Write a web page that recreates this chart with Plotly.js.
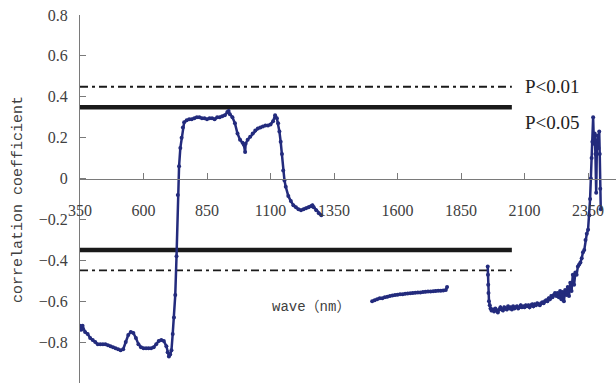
<!DOCTYPE html>
<html>
<head>
<meta charset="utf-8">
<script src="https://cdn.plot.ly/plotly-3.0.1.min.js"></script>
<style>html,body{margin:0;padding:0;background:#fff;}#chart{width:616px;height:389px;}</style>
</head>
<body>
<div id="chart"></div>
<script>
// Segment 1: 350–1300 nm
var wave1 = [350,355,360,370,380,390,400,410,420,430,440,450,460,470,480,490,500,510,520,530,540,550,560,570,580,590,600,610,620,630,640,650,660,670,680,690,695,700,705,710,715,720,725,730,735,740,745,750,755,760,770,780,790,800,810,820,830,840,850,860,870,880,890,900,910,920,930,935,940,950,960,970,980,990,995,1000,1002,1010,1020,1030,1040,1050,1060,1070,1080,1090,1100,1110,1118,1125,1130,1135,1140,1145,1150,1155,1160,1170,1180,1190,1200,1210,1220,1230,1240,1250,1260,1265,1270,1280,1290,1300];
var corr1 = [-0.72,-0.74,-0.72,-0.75,-0.76,-0.78,-0.79,-0.80,-0.81,-0.81,-0.81,-0.81,-0.815,-0.82,-0.825,-0.83,-0.835,-0.84,-0.835,-0.80,-0.765,-0.75,-0.755,-0.78,-0.81,-0.825,-0.83,-0.83,-0.83,-0.83,-0.825,-0.81,-0.795,-0.79,-0.795,-0.82,-0.85,-0.87,-0.86,-0.84,-0.76,-0.68,-0.57,-0.38,-0.08,0.06,0.15,0.20,0.25,0.275,0.285,0.29,0.29,0.295,0.30,0.30,0.295,0.295,0.29,0.295,0.295,0.29,0.30,0.30,0.305,0.31,0.325,0.33,0.315,0.30,0.27,0.22,0.19,0.175,0.165,0.13,0.17,0.19,0.205,0.22,0.235,0.245,0.25,0.255,0.26,0.26,0.265,0.28,0.31,0.295,0.27,0.23,0.18,0.12,0.04,-0.01,-0.04,-0.085,-0.11,-0.13,-0.14,-0.15,-0.155,-0.15,-0.145,-0.14,-0.135,-0.13,-0.14,-0.155,-0.17,-0.18];

// Segment 2: 1500–1795 nm
var wave2 = [1500,1510,1520,1530,1540,1550,1560,1570,1580,1590,1600,1610,1620,1630,1640,1650,1660,1670,1680,1690,1700,1710,1720,1730,1740,1750,1760,1770,1780,1790,1795];
var corr2 = [-0.60,-0.595,-0.59,-0.585,-0.585,-0.58,-0.578,-0.575,-0.572,-0.57,-0.568,-0.566,-0.566,-0.563,-0.562,-0.561,-0.56,-0.558,-0.557,-0.557,-0.555,-0.554,-0.553,-0.552,-0.551,-0.55,-0.549,-0.549,-0.548,-0.545,-0.53];

// Segment 3: 1955–2400 nm
var wave3 = [1955,1956,1957,1958,1960,1963,1966,1970,1975,1980,1985,1990,1995,2000,2005,2010,2015,2020,2025,2030,2035,2040,2045,2050,2055,2060,2065,2070,2075,2080,2085,2090,2095,2100,2105,2110,2115,2120,2125,2130,2135,2140,2145,2150,2155,2160,2165,2170,2175,2180,2185,2190,2195,2200,2205,2210,2215,2220,2225,2230,2235,2240,2245,2250,2255,2260,2265,2270,2275,2280,2285,2290,2295,2300,2305,2310,2315,2320,2325,2330,2335,2340,2345,2350,2355,2358,2361,2364,2367,2370,2373,2376,2379,2382,2385,2388,2391,2394,2396,2398,2400];
var corr3 = [-0.43,-0.47,-0.52,-0.56,-0.60,-0.62,-0.635,-0.645,-0.64,-0.65,-0.635,-0.645,-0.655,-0.64,-0.63,-0.64,-0.645,-0.63,-0.635,-0.64,-0.625,-0.635,-0.63,-0.64,-0.625,-0.635,-0.63,-0.625,-0.635,-0.63,-0.62,-0.63,-0.625,-0.63,-0.62,-0.625,-0.62,-0.63,-0.62,-0.615,-0.625,-0.615,-0.62,-0.61,-0.615,-0.62,-0.61,-0.605,-0.61,-0.60,-0.595,-0.60,-0.585,-0.59,-0.575,-0.58,-0.57,-0.56,-0.575,-0.56,-0.58,-0.55,-0.59,-0.555,-0.60,-0.545,-0.57,-0.53,-0.575,-0.51,-0.55,-0.47,-0.52,-0.46,-0.47,-0.43,-0.42,-0.41,-0.39,-0.36,-0.35,-0.30,-0.27,-0.25,-0.18,-0.10,0.00,0.10,0.18,0.30,0.17,0.22,0.12,-0.07,0.17,0.21,0.15,0.23,0.12,-0.05,-0.15];

// Significance thresholds
var thrWave = [350, 2050];
var thr01 = 0.449;
var thr05 = 0.349;

var xTicks = [350,600,850,1100,1350,1600,1850,2100,2350];
var yTicks = [-1,-0.8,-0.6,-0.4,-0.2,0,0.2,0.4,0.6,0.8];
var yTickText = ["\u22121","\u22120.8","\u22120.6","\u22120.4","\u22120.2","0","0.2","0.4","0.6","0.8"];

var curveColor = '#232b7d';
function seg(x, y) {
  return {x: x, y: y, type: 'scatter', mode: 'lines+markers',
    line: {color: curveColor, width: 2.5}, marker: {color: curveColor, size: 4},
    showlegend: false, hoverinfo: 'skip'};
}
function thr(v, dash, w) {
  return {x: thrWave, y: [v, v], type: 'scatter', mode: 'lines',
    line: {color: '#1a1a1a', width: w, dash: dash}, showlegend: false, hoverinfo: 'skip'};
}

var data = [
  thr(thr01, '8px,4px,3px,4px', 1.8), thr(-thr01, '8px,4px,3px,4px', 1.8),
  thr(thr05, 'solid', 4.5), thr(-thr05, 'solid', 4.5),
  seg(wave1, corr1), seg(wave2, corr2), seg(wave3, corr3)
];

var yMin = -1, yMax = 0.8;
var tickFont = {family: '"Liberation Serif", serif', size: 16, color: '#404040'};
var layout = {
  width: 616, height: 389,
  margin: {l: 80, r: 0, t: 15, b: 6, pad: 0},
  paper_bgcolor: '#fff', plot_bgcolor: '#fff',
  showlegend: false,
  xaxis: {
    range: [350, 2460], anchor: 'free', position: (0 - yMin) / (yMax - yMin),
    showgrid: false, zeroline: false, showline: true, linecolor: '#7a7a7a', linewidth: 1,
    ticks: 'inside', ticklen: 6, tickcolor: '#7a7a7a',
    tickvals: xTicks, ticktext: xTicks.map(String),
    tickfont: tickFont, ticklabelstandoff: 17
  },
  yaxis: {
    range: [yMin, yMax], domain: [0, 1],
    showgrid: false, zeroline: false, showline: true, linecolor: '#7a7a7a', linewidth: 1,
    ticks: 'inside', ticklen: 6, tickcolor: '#7a7a7a',
    tickvals: yTicks, ticktext: yTickText,
    tickfont: tickFont, ticklabelstandoff: 8
  },
  annotations: [
    {text: 'P&lt;0.01', x: 2094, y: thr01, xref: 'x', yref: 'y', xanchor: 'left', yanchor: 'middle',
     showarrow: false, font: {family: '"Liberation Serif", serif', size: 19, color: '#222'}},
    {text: 'P&lt;0.05', x: 2094, y: 0.275, xref: 'x', yref: 'y', xanchor: 'left', yanchor: 'middle',
     showarrow: false, font: {family: '"Liberation Serif", serif', size: 19, color: '#222'}},
    {text: 'wave\uff08nm\uff09', x: 1259, y: -0.63, xref: 'x', yref: 'y', xanchor: 'center', yanchor: 'middle',
     showarrow: false, font: {family: '"Liberation Mono", "Noto Sans CJK SC", monospace', size: 14, color: '#404040'}},
    {text: 'correlation coefficient', x: -0.1157, y: 0.5, xref: 'paper', yref: 'paper', textangle: -90,
     xanchor: 'center', yanchor: 'middle', showarrow: false,
     font: {family: '"Liberation Mono", monospace', size: 15, color: '#404040'}}
  ]
};

Plotly.newPlot('chart', data, layout, {displayModeBar: false, staticPlot: true});
</script>
</body>
</html>
